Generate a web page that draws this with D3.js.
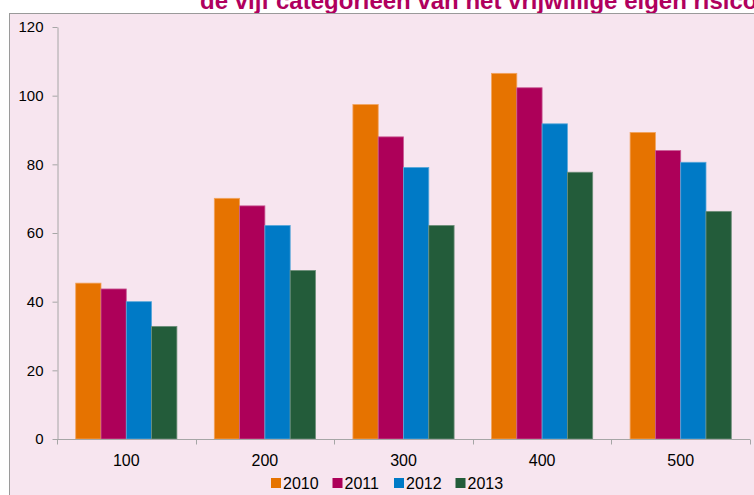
<!DOCTYPE html>
<html>
<head>
<meta charset="utf-8">
<script src="https://cdn.jsdelivr.net/npm/d3@7"></script>
<style>
  body { margin: 0; background: #fff; }
  svg { display: block; font-family: "Liberation Sans", Arial, sans-serif; }
</style>
</head>
<body>
<svg width="754" height="495"></svg>
<script>
// data
var categories = ["100", "200", "300", "400", "500"];
var years = ["2010", "2011", "2012", "2013"];
var v2010 = [45.4, 70.1, 97.4, 106.5, 89.3];
var v2011 = [43.7, 67.9, 88.0, 102.3, 84.0];
var v2012 = [40.0, 62.2, 79.1, 91.8, 80.6];
var v2013 = [32.8, 49.1, 62.2, 77.7, 66.3];
var yTicks = [0, 20, 40, 60, 80, 100, 120];
var colors = ["#E67300", "#AD0059", "#007AC6", "#235C3A"];
var strokes = ["#F2A35E", "#C95A94", "#5AA8DA", "#6E8F7A"];

var series = [v2010, v2011, v2012, v2013];

var svg = d3.select("svg");

// title (partly hidden behind the chart box, as in the source)
svg.append("text")
    .attr("x", 200)
    .attr("y", 9)
    .attr("fill", "#B0005E")
    .style("font-size", "24px")
    .style("font-weight", "bold")
    .text("de vijf categorieën van het vrijwillige eigen risico");

// chart box
svg.append("rect")
    .attr("x", 9.5).attr("y", 13.5)
    .attr("width", 800).attr("height", 520)
    .attr("fill", "#F7E5EF")
    .attr("stroke", "#9A9A9A")
    .attr("stroke-width", 1);

var plotLeft = 57, plotRight = 750, plotTop = 27, plotBottom = 439;

var x = d3.scaleBand()
    .domain(categories)
    .range([plotLeft, plotRight])
    .paddingInner(0.27)
    .paddingOuter(0.135);

var xStep = d3.scaleBand()
    .domain(categories)
    .range([plotLeft, plotRight]);

var xi = d3.scaleBand()
    .domain(years)
    .range([0, x.bandwidth()]);

var y = d3.scaleLinear()
    .domain([0, 120])
    .range([plotBottom, plotTop]);

// bars
var groups = svg.append("g").selectAll("g")
    .data(categories)
    .join("g")
    .attr("transform", function (d) { return "translate(" + x(d) + ",0)"; });

groups.selectAll("rect")
    .data(function (d, i) { return years.map(function (yr, j) { return { yr: yr, j: j, v: series[j][i] }; }); })
    .join("rect")
    .attr("x", function (d) { return xi(d.yr); })
    .attr("y", function (d) { return y(d.v); })
    .attr("width", xi.bandwidth())
    .attr("height", function (d) { return plotBottom - y(d.v); })
    .attr("fill", function (d) { return colors[d.j]; })
    .attr("stroke", function (d) { return strokes[d.j]; })
    .attr("stroke-width", 0.8);

// y axis
var yAxis = svg.append("g")
    .attr("transform", "translate(" + (plotLeft + 0.5) + ",0)")
    .call(d3.axisLeft(y).tickValues(yTicks).tickSize(5).tickPadding(9).tickSizeOuter(0));
yAxis.select(".domain").attr("stroke", "#A6A6A6");
yAxis.selectAll(".tick line").attr("stroke", "#A6A6A6");
yAxis.selectAll("text").attr("fill", "#000").style("font-size", "15px").style("font-family", "'Liberation Sans', Arial, sans-serif");

// x axis with ticks between categories
var xAxis = svg.append("g")
    .attr("transform", "translate(0," + (plotBottom + 0.5) + ")");
xAxis.append("line")
    .attr("x1", plotLeft).attr("x2", plotRight)
    .attr("stroke", "#A6A6A6");
var edges = [plotLeft].concat(categories.map(function (c) { return xStep(c) + xStep.bandwidth(); }));
xAxis.selectAll(".edge")
    .data(edges)
    .join("line")
    .attr("class", "edge")
    .attr("x1", function (d) { return Math.round(d) + 0.5; })
    .attr("x2", function (d) { return Math.round(d) + 0.5; })
    .attr("y1", 0).attr("y2", 5)
    .attr("stroke", "#A6A6A6");
xAxis.selectAll("text")
    .data(categories)
    .join("text")
    .attr("x", function (d) { return x(d) + x.bandwidth() / 2; })
    .attr("y", 26)
    .attr("text-anchor", "middle")
    .style("font-size", "16px")
    .text(function (d) { return d; });

// legend
var legend = svg.append("g").attr("transform", "translate(271,478)");
var item = legend.selectAll("g")
    .data(years)
    .join("g")
    .attr("transform", function (d, i) { return "translate(" + (i * 61.5) + ",0)"; });
item.append("rect")
    .attr("width", 10).attr("height", 10)
    .attr("fill", function (d, i) { return colors[i]; });
item.append("text")
    .attr("x", 12).attr("y", 11)
    .style("font-size", "16px")
    .text(function (d) { return d; });
</script>
</body>
</html>
